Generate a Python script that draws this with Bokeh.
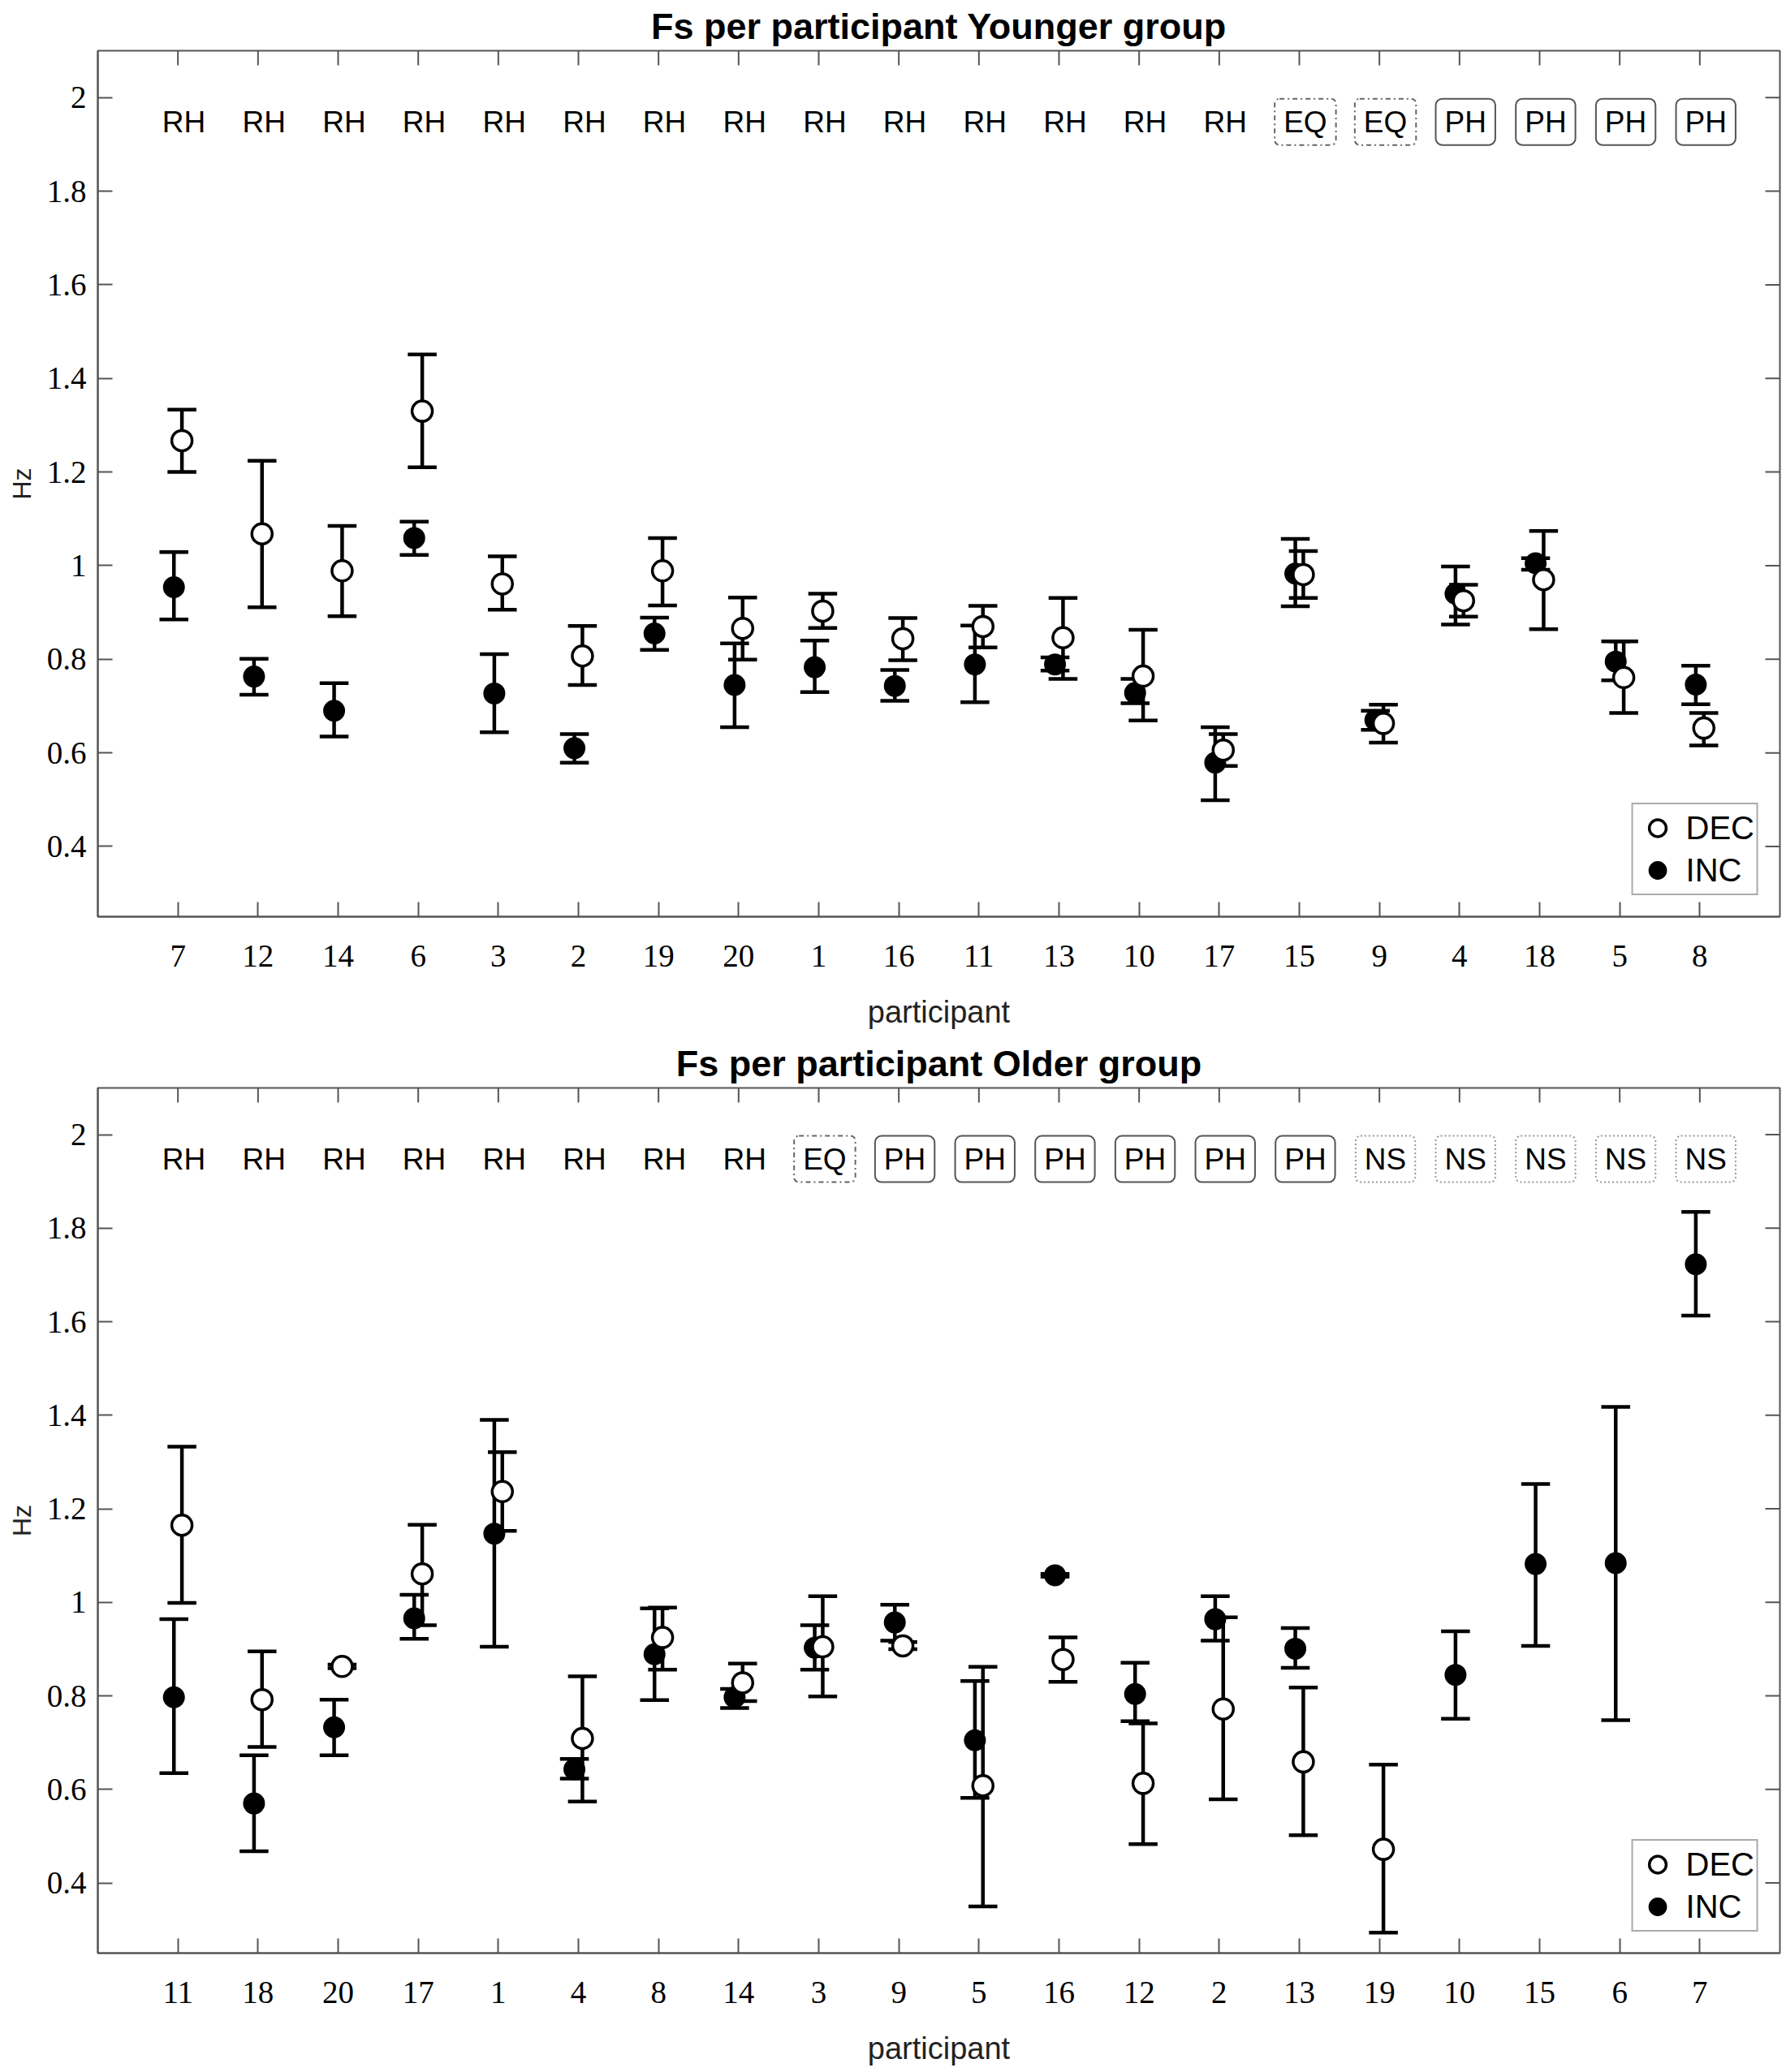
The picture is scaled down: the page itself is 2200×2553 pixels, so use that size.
import numpy as np
from bokeh.plotting import figure
from bokeh.models import (ColumnDataSource, FixedTicker, Range1d,
                          Legend, LegendItem, NumeralTickFormatter)
from bokeh.layouts import column
from bokeh.embed import file_html
from bokeh.resources import INLINE
from bokeh.core.properties import value

nan = float("nan")

# ---------------- data: younger group ----------------
young_ids = [7, 12, 14, 6, 3, 2, 19, 20, 1, 16, 11, 13, 10, 17, 15, 9, 4, 18, 5, 8]
young_groups = ["RH"] * 14 + ["EQ"] * 2 + ["PH"] * 4
young_dec = [1.267, 1.068, 0.989, 1.330, 0.961, 0.807, 0.989, 0.866, 0.903, 0.844,
             0.870, 0.846, 0.764, 0.606, 0.981, 0.663, 0.925, 0.970, 0.761, 0.653]
young_dec_lo = [1.200, 0.911, 0.892, 1.210, 0.906, 0.745, 0.915, 0.799, 0.867, 0.798,
                0.825, 0.758, 0.669, 0.572, 0.931, 0.622, 0.891, 0.864, 0.685, 0.616]
young_dec_hi = [1.333, 1.224, 1.085, 1.451, 1.020, 0.871, 1.059, 0.932, 0.940, 0.888,
                0.914, 0.931, 0.863, 0.640, 1.031, 0.703, 0.959, 1.074, 0.838, 0.685]
young_inc = [0.954, 0.763, 0.690, 1.059, 0.727, 0.610, 0.855, 0.745, 0.783, 0.743,
             0.789, 0.789, 0.728, 0.579, 0.983, 0.670, 0.940, 1.005, 0.795, 0.746]
young_inc_lo = [0.885, 0.724, 0.635, 1.023, 0.644, 0.579, 0.820, 0.655, 0.730, 0.711,
                0.708, 0.776, 0.706, 0.499, 0.913, 0.649, 0.874, 0.991, 0.755, 0.704]
young_inc_hi = [1.029, 0.801, 0.749, 1.094, 0.811, 0.640, 0.889, 0.834, 0.840, 0.777,
                0.872, 0.804, 0.758, 0.655, 1.057, 0.690, 0.998, 1.016, 0.838, 0.786]

# ---------------- data: older group ----------------
old_ids = [11, 18, 20, 17, 1, 4, 8, 14, 3, 9, 5, 16, 12, 2, 13, 19, 10, 15, 6, 7]
old_groups = ["RH"] * 8 + ["EQ"] + ["PH"] * 6 + ["NS"] * 5
old_dec = [1.165, 0.792, 0.863, 1.061, 1.237, 0.709, 0.925, 0.828, 0.905, 0.907,
           0.608, 0.878, 0.613, 0.772, 0.659, 0.472, nan, nan, nan, nan]
old_dec_lo = [0.999, 0.691, 0.859, 0.951, 1.153, 0.574, 0.856, 0.789, 0.799, 0.900,
              0.350, 0.830, 0.483, 0.579, 0.502, 0.294, nan, nan, nan, nan]
old_dec_hi = [1.333, 0.895, 0.867, 1.166, 1.321, 0.842, 0.989, 0.869, 1.013, 0.915,
              0.862, 0.925, 0.741, 0.968, 0.818, 0.653, nan, nan, nan, nan]
old_inc = [0.797, 0.570, 0.733, 0.966, 1.147, 0.643, 0.889, 0.797, 0.903, 0.957,
           0.705, 1.058, 0.804, 0.964, 0.901, nan, 0.845, 1.082, 1.084, 1.723]
old_inc_lo = [0.635, 0.468, 0.673, 0.922, 0.905, 0.623, 0.791, 0.774, 0.856, 0.918,
              0.582, 1.055, 0.746, 0.918, 0.860, nan, 0.751, 0.907, 0.748, 1.613]
old_inc_hi = [0.964, 0.673, 0.792, 1.016, 1.390, 0.665, 0.987, 0.815, 0.951, 0.995,
              0.832, 1.061, 0.871, 1.013, 0.945, nan, 0.938, 1.253, 1.418, 1.835]

y_ticks = [0.4, 0.6, 0.8, 1.0, 1.2, 1.4, 1.6, 1.8, 2.0]
Y_MIN, Y_MAX = 0.25, 2.1

SANS = "Liberation Sans"
SERIF = "Liberation Serif"
AXC = "#555555"


def series_source(xpos, v, lo, hi, cap):
    v = np.asarray(v, float)
    lo = np.asarray(lo, float)
    hi = np.asarray(hi, float)
    m = ~np.isnan(v)
    x = np.asarray(xpos, float)[m]
    return ColumnDataSource(dict(x=x, y=v[m], lo=lo[m], hi=hi[m],
                                 xl=x - cap, xr=x + cap))


def panel(title, ids, groups, dec, dec_lo, dec_hi, inc, inc_lo, inc_hi,
          height, top, bottom):
    n = len(ids)
    pos = np.arange(1, n + 1)
    x_end = n + 1
    p = figure(width=2194, height=height, x_range=Range1d(0, x_end),
               y_range=Range1d(Y_MIN, Y_MAX), output_backend="svg",
               toolbar_location=None, min_border_left=120, min_border_right=2,
               min_border_top=top, min_border_bottom=bottom, tools="")
    p.xgrid.visible = False
    p.ygrid.visible = False
    p.outline_line_color = AXC
    p.outline_line_width = 2
    p.background_fill_color = "white"

    p.title.text = title
    p.title.align = "center"
    p.title.vertical_align = "top"
    p.title.text_font = SANS
    p.title.text_font_size = "45px"
    p.title.text_font_style = "bold"
    p.title.text_color = "black"
    p.title.standoff = 6

    xa = p.xaxis[0]
    xa.ticker = FixedTicker(ticks=list(pos))
    xa.major_label_overrides = {int(k): str(v) for k, v in zip(pos, ids)}
    xa.axis_label = "participant"
    yax = p.yaxis[0]
    yax.ticker = FixedTicker(ticks=y_ticks)
    yax.formatter = NumeralTickFormatter(format="0.[0]")
    yax.axis_label = "Hz"
    for ax in (xa, yax):
        ax.axis_line_color = AXC
        ax.axis_line_width = 2
        ax.major_tick_in = 18
        ax.major_tick_out = 0
        ax.major_tick_line_color = AXC
        ax.major_tick_line_width = 2
        ax.minor_tick_line_color = None
        ax.major_label_text_font = SERIF
        ax.major_label_text_font_size = "39px"
        ax.major_label_text_color = "black"
        ax.axis_label_text_font = SANS
        ax.axis_label_text_font_style = "normal"
        ax.axis_label_text_color = "#222222"
    xa.major_label_standoff = 35
    xa.axis_label_standoff = 32
    xa.axis_label_text_font_size = "38px"
    yax.major_label_standoff = 14
    yax.axis_label_standoff = 10
    yax.axis_label_text_font_size = "32px"

    # mirrored ticks on top and right edges of the box (screen-length rays)
    p.ray(x=list(pos), y=[Y_MAX] * n, length=18, length_units="screen",
          angle=-np.pi / 2, line_color=AXC, line_width=2)
    p.ray(x=[x_end] * len(y_ticks), y=y_ticks, length=18, length_units="screen",
          angle=np.pi, line_color=AXC, line_width=2)

    # category labels
    g = np.asarray(groups)
    lab_y = 1.948
    styles = {
        "RH": dict(border_line_color=None),
        "EQ": dict(border_line_color="#666666", border_line_dash="dashdot",
                   border_line_width=2, border_radius=6),
        "PH": dict(border_line_color="#555555", border_line_width=2,
                   border_radius=8),
        "NS": dict(border_line_color="#999999", border_line_dash="2 3",
                   border_line_width=2, border_radius=6),
    }
    for key, st in styles.items():
        m = g == key
        if not m.any():
            continue
        src = ColumnDataSource(dict(x=pos[m] + 0.075, y=[lab_y] * int(m.sum()),
                                    t=list(g[m])))
        p.text(x="x", y="y", text="t", source=src, text_align="center",
               text_baseline="middle", text_font=value(SANS),
               text_font_size="37px", text_color="black",
               padding=dict(left=11, right=11, top=8, bottom=8), **st)

    cap = 0.18
    s_inc = series_source(pos - 0.05, inc, inc_lo, inc_hi, cap)
    s_dec = series_source(pos + 0.05, dec, dec_lo, dec_hi, cap)

    def bars(src):
        kw = dict(line_color="black", line_width=4.5, line_cap="butt", source=src)
        p.segment(x0="x", y0="lo", x1="x", y1="hi", **kw)
        p.segment(x0="xl", y0="lo", x1="xr", y1="lo", **kw)
        p.segment(x0="xl", y0="hi", x1="xr", y1="hi", **kw)

    bars(s_inc)
    r_inc = p.scatter(x="x", y="y", source=s_inc, marker="circle", size=25,
                      fill_color="black", line_color="black", line_width=2)
    bars(s_dec)
    r_dec = p.scatter(x="x", y="y", source=s_dec, marker="circle", size=25,
                      fill_color="white", line_color="black", line_width=3.5)

    leg = Legend(items=[LegendItem(label="DEC", renderers=[r_dec]),
                        LegendItem(label="INC", renderers=[r_inc])],
                 location="bottom_right")
    leg.margin = 26
    leg.padding = 3
    leg.spacing = 0
    leg.glyph_width = 54
    leg.glyph_height = 52
    leg.label_standoff = 8
    leg.label_text_font = SANS
    leg.label_text_font_size = "40px"
    leg.label_text_color = "black"
    leg.border_line_color = AXC
    leg.border_line_width = 2
    leg.background_fill_color = "white"
    leg.background_fill_alpha = 1.0
    p.add_layout(leg, "center")
    return p


p1 = panel("Fs per participant Younger group", young_ids, young_groups,
           young_dec, young_dec_lo, young_dec_hi,
           young_inc, young_inc_lo, young_inc_hi, 1275, 62, 146)
p2 = panel("Fs per participant Older group", old_ids, old_groups,
           old_dec, old_dec_lo, old_dec_hi,
           old_inc, old_inc_lo, old_inc_hi, 1272, 65, 140)

layout = column(p1, p2, spacing=0)
open("out.html", "w").write(file_html(layout, INLINE))
